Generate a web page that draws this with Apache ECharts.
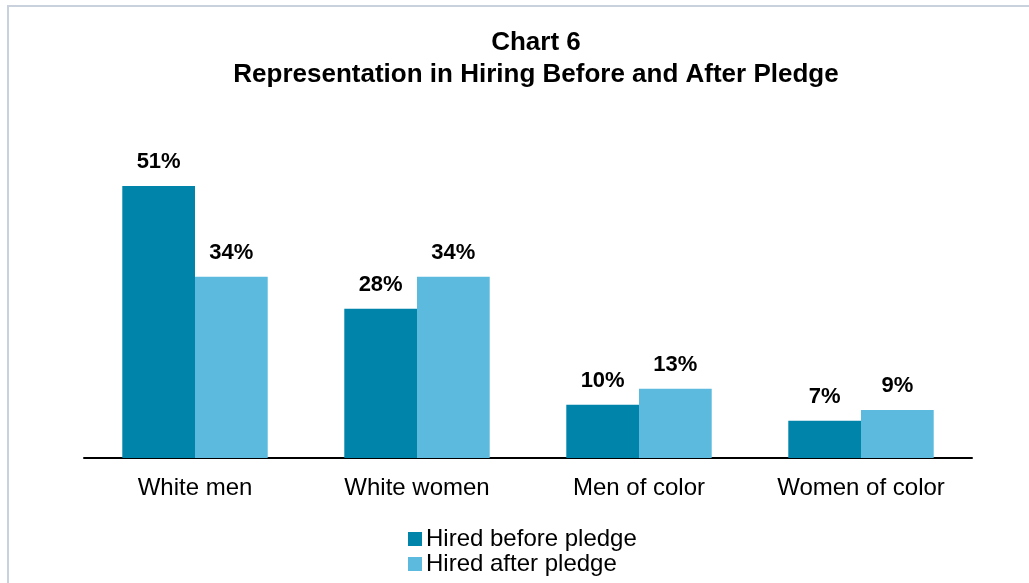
<!DOCTYPE html>
<html>
<head>
<meta charset="utf-8">
<script src="https://cdn.jsdelivr.net/npm/echarts@6/dist/echarts.min.js"></script>
<style>
  html, body { margin: 0; padding: 0; background: #ffffff; }
  #frame { position: absolute; left: 7px; top: 5px; width: 1040px; height: 600px;
           border-left: 2px solid #c9d1dc; border-top: 2px solid #c9d1dc; box-sizing: border-box; }
  #chart { position: absolute; left: 0; top: 0; width: 1029px; height: 583px; }
</style>
</head>
<body>
<div id="frame"></div>
<div id="chart"></div>
<script>
const categories = ['White men', 'White women', 'Men of color', 'Women of color'];
const hiredBefore = [51, 28, 10, 7];
const hiredAfter = [34, 34, 13, 9];
const seriesNames = ['Hired before pledge', 'Hired after pledge'];
const titleLines = ['Chart 6', 'Representation in Hiring Before and After Pledge'];

const font = '"Liberation Sans", Arial, sans-serif';
const chart = echarts.init(document.getElementById('chart'), null, { renderer: 'canvas' });

const labelStyle = {
  show: true,
  position: 'top',
  distance: 13,
  formatter: p => p.value + '%',
  fontFamily: font,
  fontSize: 22,
  fontWeight: 'bold',
  color: '#000'
};

chart.setOption({
  animation: false,
  backgroundColor: 'transparent',
  title: {
    text: titleLines.join('\n'),
    left: 531,
    textAlign: 'center',
    top: 22,
    textStyle: { fontFamily: font, fontSize: 26, fontWeight: 'bold', color: '#000', lineHeight: 32 }
  },
  legend: {
    orient: 'vertical',
    left: 408,
    top: 527,
    height: 60,
    padding: 0,
    itemWidth: 14,
    itemHeight: 14,
    itemGap: 1,
    icon: 'rect',
    textStyle: { fontFamily: font, fontSize: 24, color: '#000', lineHeight: 22, padding: [0, 0, 0, -1] },
    data: seriesNames
  },
  grid: { left: 84, right: 57, top: 138, bottom: 125 },
  xAxis: {
    type: 'category',
    data: categories,
    axisLine: { lineStyle: { color: '#000', width: 2 } },
    axisTick: { show: false },
    axisLabel: { fontFamily: font, fontSize: 24, color: '#000', margin: 18 }
  },
  yAxis: {
    type: 'value',
    min: 0,
    max: 60,
    show: false,
    splitLine: { show: false }
  },
  series: [
    {
      name: seriesNames[0],
      type: 'bar',
      data: hiredBefore,
      itemStyle: { color: '#0084aa' },
      barGap: '0%',
      barCategoryGap: '34.5%',
      label: labelStyle
    },
    {
      name: seriesNames[1],
      type: 'bar',
      data: hiredAfter,
      itemStyle: { color: '#5bbadd' },
      label: labelStyle
    }
  ]
});
</script>
</body>
</html>
